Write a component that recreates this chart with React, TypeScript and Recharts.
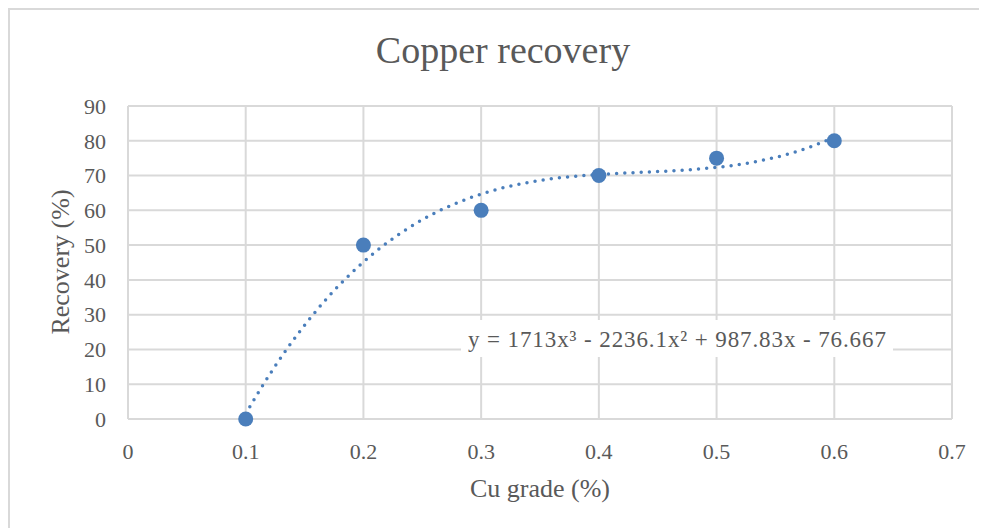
import React from 'react';
import {
  ScatterChart,
  Scatter,
  XAxis,
  YAxis,
  CartesianGrid,
  Customized,
} from 'recharts';

// Measured copper recovery against head grade
const gradeValues = [0.1, 0.2, 0.3, 0.4, 0.5, 0.6];
const recoveryValues = [0, 50, 60, 70, 75, 80];

// Axis ticks
const xTicks = [0, 0.1, 0.2, 0.3, 0.4, 0.5, 0.6, 0.7];
const yTicks = [0, 10, 20, 30, 40, 50, 60, 70, 80, 90];

// Cubic trendline coefficients (x^3, x^2, x, constant), as printed in the label
const trendCoefficients = [1713, -2236.1, 987.83, -76.667];
const trendLabel = 'y = 1713x³ - 2236.1x² + 987.83x - 76.667';

const points = gradeValues.map((g, i) => ({ x: g, y: recoveryValues[i] }));

// Trendline sampled across the measured grade range
const trendPoints: { x: number; y: number }[] = [];
for (let i = 0; i <= 100; i++) {
  const x = 0.1 + (i * 0.5) / 100;
  const [a, b, c, d] = trendCoefficients;
  trendPoints.push({ x, y: a * x ** 3 + b * x ** 2 + c * x + d });
}

const FONT = '"Liberation Serif", serif';
const TEXT = '#595959';
const GRID = '#d9d9d9';
const BLUE = '#4a7ebb';

const Overlay = () => (
  <g fontFamily={FONT} fill={TEXT}>
    <text x={493} y={53} textAnchor="middle" fontSize={38}>
      Copper recovery
    </text>
    <text x={530} y={487} textAnchor="middle" fontSize={26}>
      Cu grade (%)
    </text>
    <text
      x={50}
      y={252}
      textAnchor="middle"
      dominantBaseline="central"
      fontSize={26}
      transform="rotate(-90 50 252)"
    >
      Recovery (%)
    </text>
    <rect x={451} y={310} width={432} height={37} fill="#ffffff" />
    <text x={458} y={337} fontSize={23} letterSpacing={0.9}>
      {trendLabel}
    </text>
  </g>
);

const NoShape = () => null;

export default function App() {
  return (
    <div
      style={{
        width: 979,
        height: 520,
        borderLeft: `2px solid ${GRID}`,
        borderTop: `2px solid ${GRID}`,
        background: '#ffffff',
      }}
    >
      <ScatterChart
        width={977}
        height={518}
        margin={{ top: 96, right: 35, bottom: 79, left: 58 }}
      >
        <CartesianGrid stroke={GRID} strokeWidth={2} />
        <XAxis
          type="number"
          dataKey="x"
          domain={[0, 0.7]}
          ticks={xTicks}
          interval={0}
          axisLine={{ stroke: GRID, strokeWidth: 2 }}
          tickLine={false}
          tickSize={0}
          tickMargin={24}
          height={30}
          tick={{ fill: TEXT, fontSize: 22, fontFamily: FONT }}
        />
        <YAxis
          type="number"
          dataKey="y"
          domain={[0, 90]}
          ticks={yTicks}
          interval={0}
          axisLine={{ stroke: GRID, strokeWidth: 2 }}
          tickLine={false}
          tickSize={0}
          tickMargin={22}
          width={60}
          tick={{ fill: TEXT, fontSize: 22, fontFamily: FONT }}
        />
        <Scatter
          data={trendPoints}
          shape={NoShape}
          line={{
            stroke: BLUE,
            strokeWidth: 3.5,
            strokeDasharray: '0 8.2',
            strokeLinecap: 'round',
          }}
          lineType="joint"
          isAnimationActive={false}
        />
        <Scatter
          data={points}
          fill={BLUE}
          shape={(p: any) => <circle cx={p.cx} cy={p.cy} r={7.5} fill={BLUE} />}
          isAnimationActive={false}
        />
        <Customized component={Overlay} />
      </ScatterChart>
    </div>
  );
}
